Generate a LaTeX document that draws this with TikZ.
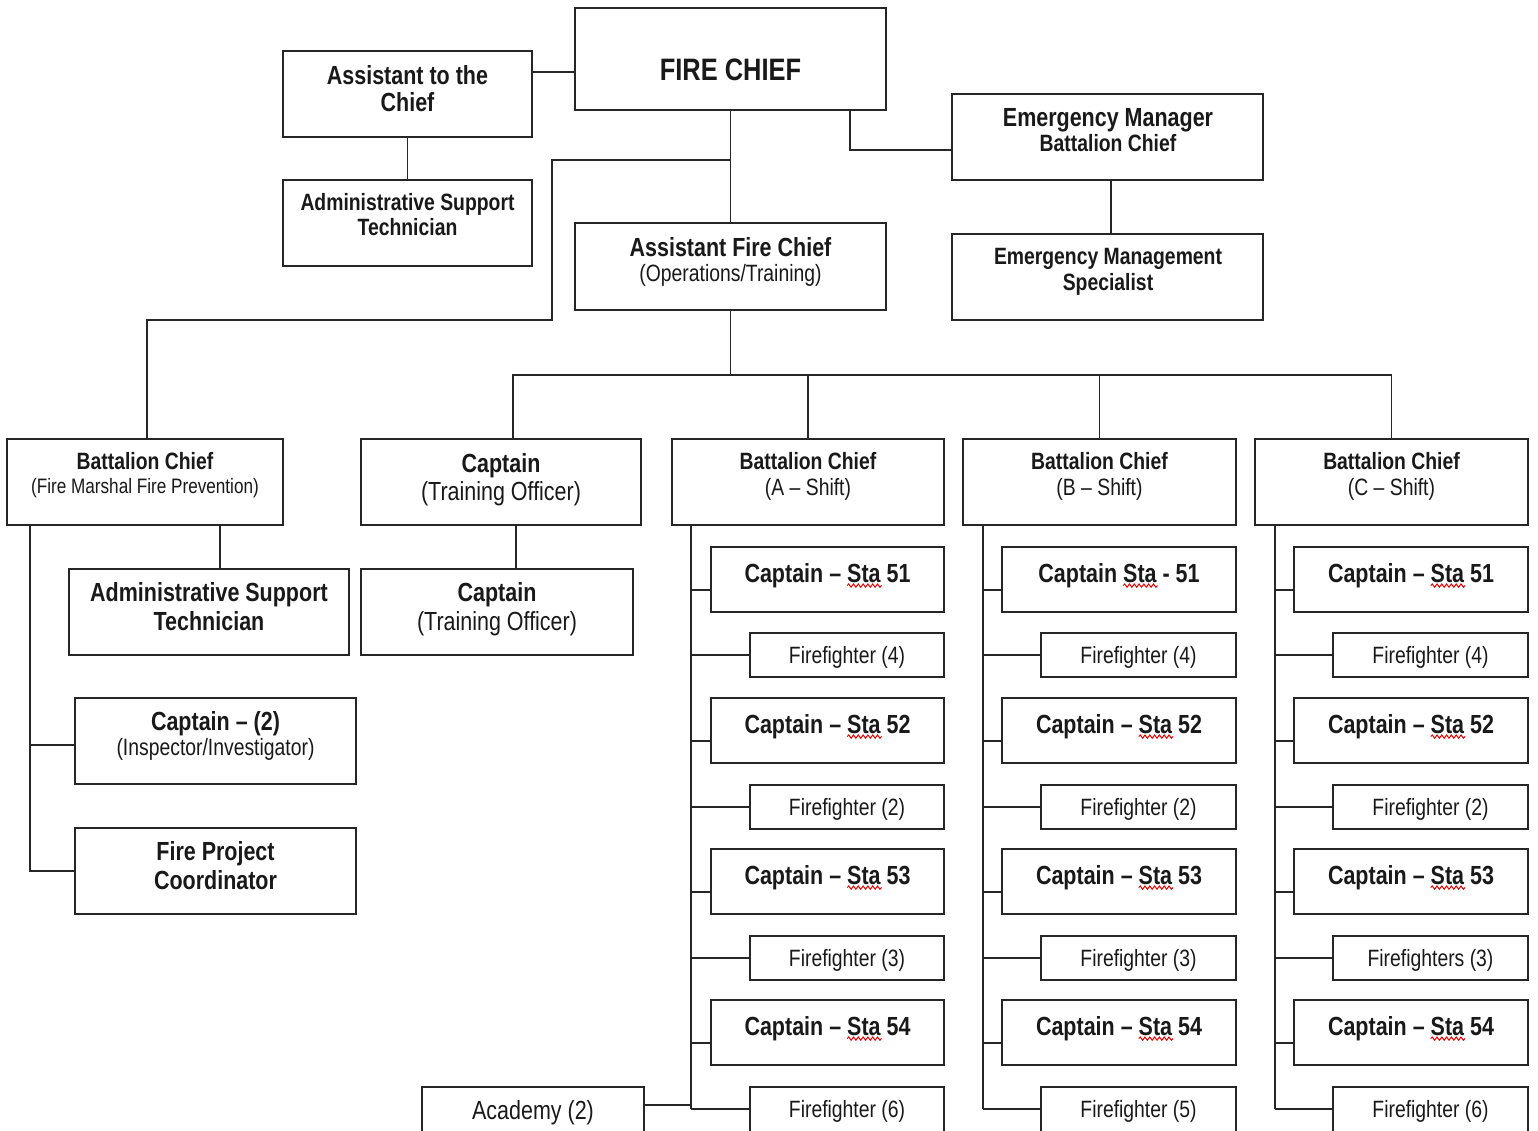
\documentclass[tikz,border=0pt]{standalone}
\usepackage{fontspec}
\setmainfont{Liberation Sans}[FakeStretch=0.82]
\usetikzlibrary{calc,decorations.pathmorphing}
\newcommand\redwave[1]{\tikz[baseline=(w.base), x=1pt, y=1pt]{\node[inner sep=0pt, outer sep=0pt, text depth=0pt, anchor=base] (w) at (0,0) {#1}; \draw[red!90!black, line width=1pt, overlay, decorate, decoration={snake, amplitude=1.6pt, segment length=4.8pt}] ([yshift=-3.2pt]w.base west) -- ([yshift=-3.2pt,xshift=1pt]w.base east);}}
\newcommand\obox[5]{\node[box, minimum width={((#4)-(#2))*1pt}, minimum height={((#5)-(#3))*1pt}] (#1) at ({((#2)+(#4))/2},{((#3)+(#5))/2}) {};}
\newcommand\capbox[6]{%
  \pgfmathsetmacro\yb{#4+65}\pgfmathsetmacro\yt{#4+26}\pgfmathsetmacro\yc{#4+43}%
  \obox{#1}{#3}{#4}{#5}{\yb}%
  \node[L] (#1t) at ({((#3)+(#5))/2},\yt) {#6};%
  \draw[conn] (#1.west |- 0,\yc) -- (#2 |- 0,\yc);}
\newcommand\ffbox[7]{%
  \pgfmathsetmacro\yb{#4+#7}\pgfmathsetmacro\yc{#4+22}%
  \obox{#1}{#3}{#4}{#5}{\yb}%
  \node[R] (#1t) at ({((#3)+(#5))/2},\yc) {#6};%
  \draw[conn] (#1.west |- 0,\yc) -- (#2 |- 0,\yc);}
\begin{document}
\begin{tikzpicture}[x=1pt,y=-1pt,
  box/.style={draw=black!85, line width=1.6pt, inner sep=0pt, outer sep=0pt},
  conn/.style={draw=black!85, line width=1.6pt},
  txt/.style={inner sep=0pt, text depth=0pt, anchor=center, text=black!90},
  CH/.style={txt, font=\fontsize{31}{34}\selectfont\bfseries, text height=22.2pt},
  L/.style={txt, font=\fontsize{26.2}{30}\selectfont\bfseries, text height=18.8pt},
  M/.style={txt, font=\fontsize{23.6}{27}\selectfont\bfseries, text height=16.9pt},
  R/.style={txt, font=\fontsize{23.6}{27}\selectfont, text height=16.9pt},
  RL/.style={txt, font=\fontsize{26.2}{30}\selectfont, text height=18.8pt},
  RS/.style={txt, font=\fontsize{20.9}{24}\selectfont, text height=15pt}]
\useasboundingbox (0,0) rectangle (1538,1131);
\fill[white] (0,0) rectangle (1538,1131);
\clip (0,0) rectangle (1538,1131);

% top boxes
\obox{chief}{575}{8}{886}{110}
\node[CH] (chieft) at (730.5,69) {FIRE CHIEF};
\obox{asst}{283}{51}{532}{137}
\node[L] (asstt1) at (407.5,75) {Assistant to the};
\node[L] (asstt2) at (407.5,102) {Chief};
\obox{adm1}{283}{180}{532}{266}
\node[M] (adm1t1) at (407.5,202) {Administrative Support};
\node[M] (adm1t2) at (407.5,227) {Technician};
\obox{em}{952}{94}{1263}{180}
\node[L] (emt1) at (1108,117) {Emergency Manager};
\node[M] (emt2) at (1108,143) {Battalion Chief};
\obox{ems}{952}{234}{1263}{320}
\node[M] (emst1) at (1108,256) {Emergency Management};
\node[M] (emst2) at (1108,282) {Specialist};
\obox{afc}{575}{223}{886}{310}
\node[L] (afct1) at (730.5,247) {Assistant Fire Chief};
\node[R] (afct2) at (730.5,273) {(Operations/Training)};

% second row
\obox{bcfm}{7}{439}{283}{525}
\node[M] (bcfmt1) at (145,461) {Battalion Chief};
\node[RS] (bcfmt2) at (145,486) {(Fire Marshal Fire Prevention)};
\obox{ct1}{361}{439}{641}{525}
\node[L] (ct1t1) at (501,463) {Captain};
\node[RL] (ct1t2) at (501,491) {(Training Officer)};
\obox{bca}{672}{439}{944}{525}
\node[M] (bcat1) at (808,461) {Battalion Chief};
\node[R] (bcat2) at (808,487) {(A – Shift)};
\obox{bcb}{963}{439}{1236}{525}
\node[M] (bcbt1) at (1099.5,461) {Battalion Chief};
\node[R] (bcbt2) at (1099.5,487) {(B – Shift)};
\obox{bcc}{1255}{439}{1528}{525}
\node[M] (bcct1) at (1391.5,461) {Battalion Chief};
\node[R] (bcct2) at (1391.5,487) {(C – Shift)};

% left branches
\obox{adm2}{69}{569}{349}{655}
\node[L] (adm2t1) at (209,592) {Administrative Support};
\node[L] (adm2t2) at (209,621) {Technician};
\obox{ct2}{361}{569}{633}{655}
\node[L] (ct2t1) at (497,592) {Captain};
\node[RL] (ct2t2) at (497,621) {(Training Officer)};
\obox{cap2}{75}{698}{356}{784}
\node[L] (cap2t1) at (215.5,721) {Captain – (2)};
\node[R] (cap2t2) at (215.5,747) {(Inspector/Investigator)};
\obox{fpc}{75}{828}{356}{914}
\node[L] (fpct1) at (215.5,851) {Fire Project};
\node[L] (fpct2) at (215.5,880) {Coordinator};
\obox{acad}{422}{1087}{644}{1150}
\node[RL] (acadt) at (533,1110) {Academy (2)};

% top connectors
\draw[conn] (asst.east |- 0,72) -- (chief.west |- 0,72);
\draw[conn] (asst.south) -- (adm1.north);
\draw[conn] (chief.south) -- (afc.north);
\coordinate (j1) at (552,320);
\draw[conn] (chief.south |- 0,160) -| (j1) -| (bcfm.north -| 147,0);
\draw[conn] (chief.south -| 850,0) |- (em.west |- 0,150);
\draw[conn] (em.south -| 1111,0) -- (ems.north -| 1111,0);
\coordinate (bus) at (afc.south |- 0,375);
\draw[conn] (afc.south) -- (bus);
\draw[conn] (ct1.north -| 513,0) |- (bcc.north |- bus) -- (bcc.north);
\draw[conn] (bca.north) -- (bca.north |- bus);
\draw[conn] (bcb.north) -- (bcb.north |- bus);
\draw[conn] (ct1.south -| 516,0) -- (ct2.north -| 516,0);
\draw[conn] (bcfm.south -| 220,0) -- (adm2.north -| 220,0);
\coordinate (spF) at (bcfm.south -| 30,0);
\draw[conn] (spF) |- (fpc.west);
\draw[conn] (cap2.west |- 0,745) -- (spF |- 0,745);

% shift columns
\coordinate (spA) at (bca.south -| 691,0);
\coordinate (spB) at (bcb.south -| 983,0);
\coordinate (spC) at (bcc.south -| 1275,0);
\draw[conn] (spA) -- (spA |- 0,1109);
\draw[conn] (spB) -- (spB |- 0,1109);
\draw[conn] (spC) -- (spC |- 0,1109);
\draw[conn] (acad.east |- 0,1105) -- (spA |- 0,1105);

\capbox{a1}{spA}{711}{547}{944}{Captain – \redwave{Sta} 51}
\ffbox{a2}{spA}{750}{633}{944}{Firefighter (4)}{44}
\capbox{a3}{spA}{711}{698}{944}{Captain – \redwave{Sta} 52}
\ffbox{a4}{spA}{750}{785}{944}{Firefighter (2)}{44}
\capbox{a5}{spA}{711}{849}{944}{Captain – \redwave{Sta} 53}
\ffbox{a6}{spA}{750}{936}{944}{Firefighter (3)}{44}
\capbox{a7}{spA}{711}{1000}{944}{Captain – \redwave{Sta} 54}
\ffbox{a8}{spA}{750}{1087}{944}{Firefighter (6)}{60}

\capbox{b1}{spB}{1002}{547}{1236}{Captain \redwave{Sta} - 51}
\ffbox{b2}{spB}{1041}{633}{1236}{Firefighter (4)}{44}
\capbox{b3}{spB}{1002}{698}{1236}{Captain – \redwave{Sta} 52}
\ffbox{b4}{spB}{1041}{785}{1236}{Firefighter (2)}{44}
\capbox{b5}{spB}{1002}{849}{1236}{Captain – \redwave{Sta} 53}
\ffbox{b6}{spB}{1041}{936}{1236}{Firefighter (3)}{44}
\capbox{b7}{spB}{1002}{1000}{1236}{Captain – \redwave{Sta} 54}
\ffbox{b8}{spB}{1041}{1087}{1236}{Firefighter (5)}{60}

\capbox{c1}{spC}{1294}{547}{1528}{Captain – \redwave{Sta} 51}
\ffbox{c2}{spC}{1333}{633}{1528}{Firefighter (4)}{44}
\capbox{c3}{spC}{1294}{698}{1528}{Captain – \redwave{Sta} 52}
\ffbox{c4}{spC}{1333}{785}{1528}{Firefighter (2)}{44}
\capbox{c5}{spC}{1294}{849}{1528}{Captain – \redwave{Sta} 53}
\ffbox{c6}{spC}{1333}{936}{1528}{Firefighters (3)}{44}
\capbox{c7}{spC}{1294}{1000}{1528}{Captain – \redwave{Sta} 54}
\ffbox{c8}{spC}{1333}{1087}{1528}{Firefighter (6)}{60}
\end{tikzpicture}
\end{document}
